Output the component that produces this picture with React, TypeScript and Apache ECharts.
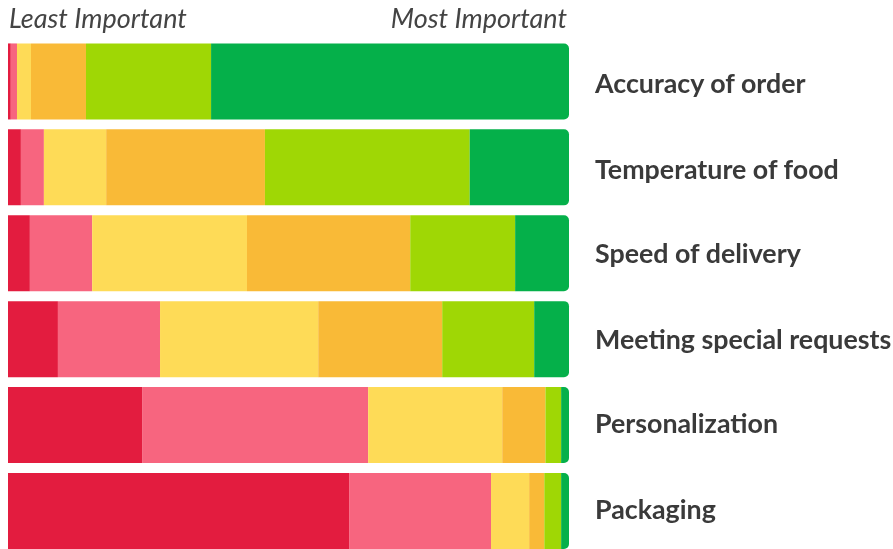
import React, { useEffect, useRef } from "react";
import * as echarts from "echarts";

const categories = [
  "Accuracy of order",
  "Temperature of food",
  "Speed of delivery",
  "Meeting special requests",
  "Personalization",
  "Packaging",
];

const levelNames = ["1", "2", "3", "4", "5", "6"];
const levelColors = ["#e31c3f", "#f7657f", "#fedb57", "#f9ba37", "#9fd705", "#05b04a"];

const level1 = [0.5, 2.3, 3.9, 8.9, 23.9, 60.8];
const level2 = [1.1, 4.1, 11.1, 18.2, 40.3, 25.3];
const level3 = [2.5, 11.1, 27.6, 28.2, 23.9, 6.8];
const level4 = [9.8, 28.3, 29.1, 22.1, 7.7, 2.7];
const level5 = [22.3, 36.5, 18.7, 16.4, 2.8, 3.0];
const level6 = [63.8, 17.7, 9.6, 6.2, 1.4, 1.4];

const levels = [level1, level2, level3, level4, level5, level6];

const labelPads = [
  [2.2, 0, 0, 0],
  [3, 0, 0, 0],
  [0, 0, 1.4, 0],
  [0, 0, 0.6, 0],
  [0, 0, 4.6, 0],
  [0, 0, 4.8, 0],
];

export default function App() {
  const ref = useRef<HTMLDivElement>(null);
  useEffect(() => {
    if (!ref.current) return;
    const chart = echarts.init(ref.current, null, { renderer: "svg" });
    const labelFont = {
      fontFamily: "Lato",
      fontWeight: "bold" as const,
      fontSize: 26.8,
      color: "#3a3a3a",
    };
    const rich: Record<string, any> = {};
    labelPads.forEach((p, i) => {
      rich["r" + i] = { ...labelFont, padding: p };
    });
    chart.setOption({
      animation: false,
      grid: { left: 8, right: 324, top: 38.5, height: 515.4, outerBoundsMode: "none", containLabel: false },
      xAxis: { type: "value", min: 0, max: 100, show: false },
      yAxis: {
        type: "category",
        data: categories,
        inverse: true,
        position: "right",
        axisLine: { show: false },
        axisTick: { show: false },
        axisLabel: {
          margin: 26,
          align: "left",
          ...labelFont,
          formatter: (v: string, i: number) => `{r${i}|${v}}`,
          rich,
        },
      },
      graphic: [
        {
          type: "text",
          left: 9,
          top: 4,
          style: {
            text: "Least Important",
            font: "italic 27px Lato",
            fill: "#444444",
          },
        },
        {
          type: "text",
          right: 893 - 567,
          top: 4,
          style: {
            text: "Most Important",
            font: "italic 27px Lato",
            fill: "#444444",
          },
        },
      ],
      series: levels.map((vals, i) => ({
        name: levelNames[i],
        type: "bar",
        stack: "total",
        barCategoryGap: "11.5%",
        data: vals,
        itemStyle: {
          color: levelColors[i],
          borderRadius: i === levels.length - 1 ? [0, 5, 5, 0] : 0,
        },
      })),
    });
    return () => chart.dispose();
  }, []);
  return (
    <div
      ref={ref}
      style={{ position: "fixed", left: 0, top: 0, width: 893, height: 549 }}
    />
  );
}
